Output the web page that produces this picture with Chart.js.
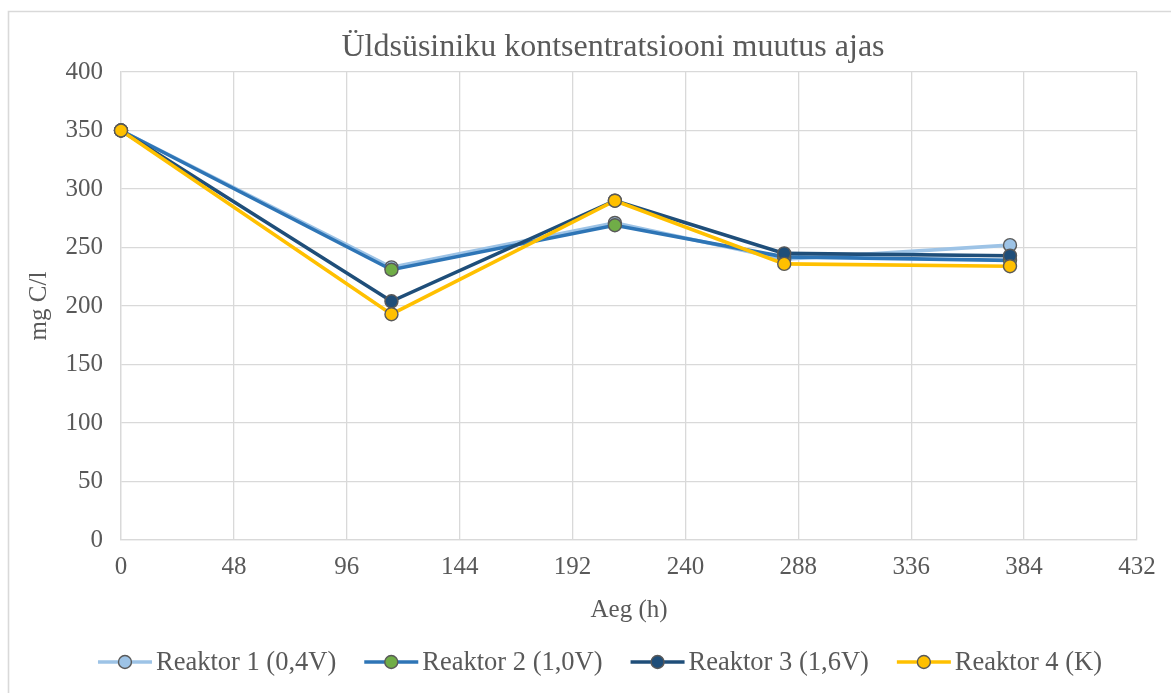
<!DOCTYPE html>
<html>
<head>
<meta charset="utf-8">
<script src="https://cdn.jsdelivr.net/npm/chart.js@4/dist/chart.umd.min.js"></script>
<style>
html,body{margin:0;padding:0;background:#fff;}
#wrap{position:relative;width:1171px;height:693px;}
canvas{display:block;}
</style>
</head>
<body>
<div id="wrap"><canvas id="c" width="1171" height="693"></canvas></div>
<script>
const hours = [0, 115, 210, 282, 378];
const reaktor1 = [350, 233, 271, 240, 252];
const reaktor2 = [350, 231, 269, 242, 239];
const reaktor3 = [350, 204, 290, 245, 243];
const reaktor4 = [350, 193, 290, 236, 234];
const seriesNames = ['Reaktor 1 (0,4V)', 'Reaktor 2 (1,0V)', 'Reaktor 3 (1,6V)', 'Reaktor 4 (K)'];
const xTickValues = [0, 48, 96, 144, 192, 240, 288, 336, 384, 432];
const yTickValues = [0, 50, 100, 150, 200, 250, 300, 350, 400];
const titleText = 'Üldsüsiniku kontsentratsiooni muutus ajas';
const xTitle = 'Aeg (h)';
const yTitle = 'mg C/l';

const FONT = '"Liberation Serif", "Times New Roman", serif';
const TXT = '#595959';
const GRID = '#D9D9D9';

const lineColors = ['#9DC3E6', '#2E75B6', '#1F4E79', '#FFC000'];
const markerColors = ['#9DC3E6', '#70AD47', '#1F4E79', '#FFC000'];
const allSeries = [reaktor1, reaktor2, reaktor3, reaktor4];

const datasets = allSeries.map((vals, i) => ({
  label: seriesNames[i],
  data: vals.map((v, j) => ({x: hours[j], y: v})),
  borderColor: lineColors[i],
  backgroundColor: markerColors[i],
  pointBackgroundColor: markerColors[i],
  pointBorderColor: '#595959',
  pointBorderWidth: 1.4,
  pointRadius: 6.5,
  borderWidth: 3.6,
  tension: 0,
  clip: false,
  order: 3 - i
}));

const frameTitleLegend = {
  id: 'frameTitleLegend',
  beforeDraw(chart) {
    const ctx = chart.ctx;
    ctx.save();
    ctx.fillStyle = '#fff';
    ctx.fillRect(0, 0, chart.width, chart.height);
    ctx.strokeStyle = GRID;
    ctx.lineWidth = 1.6;
    ctx.beginPath();
    ctx.moveTo(8.5, chart.height);
    ctx.lineTo(8.5, 11.5);
    ctx.lineTo(chart.width, 11.5);
    ctx.stroke();
    ctx.restore();
  },
  afterDraw(chart) {
    const ctx = chart.ctx;
    ctx.save();
    // title
    ctx.font = '32px ' + FONT;
    ctx.fillStyle = TXT;
    ctx.textAlign = 'center';
    ctx.textBaseline = 'middle';
    ctx.fillText(titleText, 613, 48);
    // legend
    ctx.font = '26.5px ' + FONT;
    const lineLen = 54, gap = 4, spacing = 28;
    const widths = seriesNames.map(n => ctx.measureText(n).width);
    const total = widths.reduce((a, w) => a + lineLen + gap + w, 0) + spacing * (seriesNames.length - 1);
    let x = 600 - total / 2;
    const y = 662;
    seriesNames.forEach((n, i) => {
      ctx.strokeStyle = lineColors[i];
      ctx.lineWidth = 3.6;
      ctx.beginPath();
      ctx.moveTo(x, y);
      ctx.lineTo(x + lineLen, y);
      ctx.stroke();
      ctx.beginPath();
      ctx.arc(x + lineLen / 2, y, 6.5, 0, Math.PI * 2);
      ctx.fillStyle = markerColors[i];
      ctx.fill();
      ctx.lineWidth = 1.4;
      ctx.strokeStyle = '#595959';
      ctx.stroke();
      ctx.fillStyle = TXT;
      ctx.textBaseline = 'middle';
      ctx.textAlign = 'left';
      ctx.fillText(n, x + lineLen + gap, y + 1);
      x += lineLen + gap + widths[i] + spacing;
    });
    ctx.restore();
  }
};

new Chart(document.getElementById('c'), {
  type: 'line',
  data: {datasets},
  plugins: [frameTitleLegend],
  options: {
    responsive: false,
    animation: false,
    devicePixelRatio: 1,
    layout: {padding: {left: 20, right: 34, top: 72, bottom: 63}},
    plugins: {
      legend: {display: false},
      tooltip: {enabled: false},
      title: {display: false}
    },
    scales: {
      x: {
        type: 'linear',
        min: 0,
        max: 432,
        afterBuildTicks(s) { s.ticks = xTickValues.map(v => ({value: v})); },
        afterFit(s) { s.height = 90; },
        grid: {color: GRID, lineWidth: 1.3, drawTicks: false},
        border: {color: GRID, width: 1.3},
        ticks: {color: TXT, font: {family: FONT, size: 25}, padding: 12, maxRotation: 0},
        title: {display: true, text: xTitle, color: TXT, font: {family: FONT, size: 25}, padding: {top: 4, bottom: 5}}
      },
      y: {
        min: 0,
        max: 400,
        afterBuildTicks(s) { s.ticks = yTickValues.map(v => ({value: v})); },
        afterFit(s) { s.width = 101; },
        grid: {color: GRID, lineWidth: 1.3, drawTicks: false},
        border: {color: GRID, width: 1.3},
        ticks: {color: TXT, font: {family: FONT, size: 25}, padding: 18},
        title: {display: true, text: yTitle, color: TXT, font: {family: FONT, size: 25}, padding: {top: 4, bottom: 4}}
      }
    }
  }
});
</script>
</body>
</html>
